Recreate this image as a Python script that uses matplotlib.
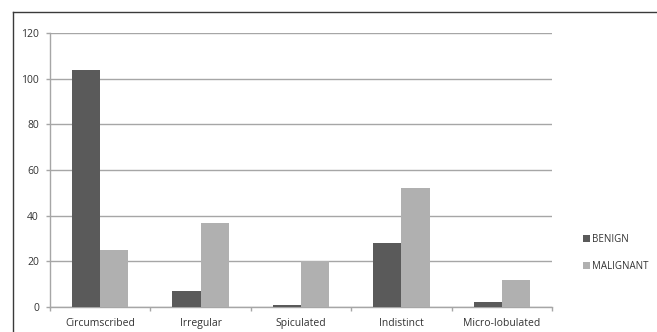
import matplotlib.pyplot as plt
import numpy as np
from matplotlib.lines import Line2D
from matplotlib.patches import Patch

plt.rcParams['font.family'] = ['Open Sans', 'DejaVu Sans']
plt.rcParams['text.color'] = '#333333'
plt.rcParams['xtick.labelcolor'] = '#333333'
plt.rcParams['ytick.labelcolor'] = '#333333'

categories = ['Circumscribed', 'Irregular', 'Spiculated', 'Indistinct', 'Micro-lobulated']
benign = [104, 7, 1, 28, 2]
malignant = [25, 37, 20, 52, 12]
y_ticks = [0, 20, 40, 60, 80, 100, 120]

dark = '#5a5a5a'
light = '#b0b0b0'
grid = '#a6a6a6'

fig = plt.figure(figsize=(6.57, 3.32), dpi=100)
ax = fig.add_axes([50 / 657, 25 / 332, 502 / 657, 274 / 332])

x = np.arange(len(categories))
w = 0.28
ax.bar(x - w / 2, benign, w, color=dark, zorder=3)
ax.bar(x + w / 2, malignant, w, color=light, zorder=3)

ax.set_xlim(-0.5, len(categories) - 0.5)
ax.set_ylim(0, 120)
ax.set_yticks(y_ticks)
ax.yaxis.grid(True, color=grid, linewidth=1.0, zorder=0)

# category labels in the middle, tick marks on the boundaries
ax.set_xticks(x)
ax.set_xticklabels(categories, fontsize=7.5)
ax.set_xticks(np.arange(len(categories) + 1) - 0.5, minor=True)
ax.tick_params(axis='x', which='major', length=0, pad=8)
ax.tick_params(axis='x', which='minor', length=3, color=grid, width=1.0)
ax.tick_params(axis='y', length=3, color=grid, width=1.0, labelsize=7.5, pad=5)

for side in ['top', 'right']:
    ax.spines[side].set_visible(False)
for side in ['left', 'bottom']:
    ax.spines[side].set_color(grid)
    ax.spines[side].set_linewidth(1.0)

# chart frame
fig.add_artist(Line2D([12.5 / 657, 12.5 / 657], [0, 1 - 11.5 / 332],
                      transform=fig.transFigure, color='#3a3a3a', linewidth=1.0))
fig.add_artist(Line2D([12.5 / 657, 1], [1 - 11.5 / 332, 1 - 11.5 / 332],
                      transform=fig.transFigure, color='#3a3a3a', linewidth=1.0))

handles = [Patch(facecolor=dark, label='BENIGN'),
           Patch(facecolor=light, label='MALIGNANT')]
fig.legend(handles=handles, loc='center left', bbox_to_anchor=(574 / 657, 1 - 253 / 332),
           frameon=False, fontsize=7, handlelength=0.7, handleheight=0.7,
           handletextpad=0.3, labelspacing=1.6)

fig.savefig('out.png', dpi=100)
